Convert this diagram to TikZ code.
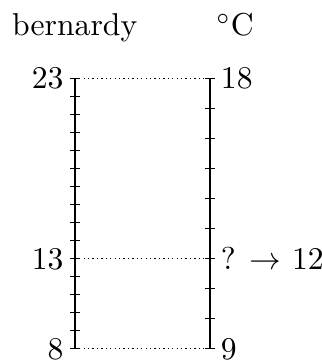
\documentclass[tikz,border=0pt]{standalone}
\usepackage{amsmath,amssymb}
\usepackage{tikz}
\begin{document}
\begin{tikzpicture}

\useasboundingbox (-0.830,-0.135) rectangle (2.745,3.875);

% scale ends
\coordinate (b8) at (0,0);
\coordinate (b13) at (0,1);
\coordinate (b23) at (0,3);
\coordinate (c9) at (1.5,0);
\coordinate (c12) at (1.5,1);
\coordinate (c18) at (1.5,3);

% axes
\draw[semithick] (b8) -- (b23);
\draw[semithick] (c9) -- (c18);

% ticks
\foreach \i in {0,...,15} \draw (-0.055,0.2*\i) -- (0.055,0.2*\i);
\foreach \i in {0,...,9} \draw (1.445,\i/3) -- (1.555,\i/3);

% matching lines
\draw[densely dotted] (b23) -- (c18);
\draw[densely dotted] (b13) -- (c12);
\draw[densely dotted] (b8) -- (c9);

% values
\node[left] (l23) at (b23) {23};
\node[left] (l13) at (b13) {13};
\node[left] (l8) at (b8) {8};
\node[right] (r18) at (c18) {18};
\node[right] (r12) at (c12) {? $\to$ 12};
\node[right] (r9) at (c9) {9};

% units
\node[anchor=base] (ub) at (0,3.476) {bernardy};
\node[anchor=base] (uc) at (1.782,3.476) {$^\circ$C};

\end{tikzpicture}
\end{document}
